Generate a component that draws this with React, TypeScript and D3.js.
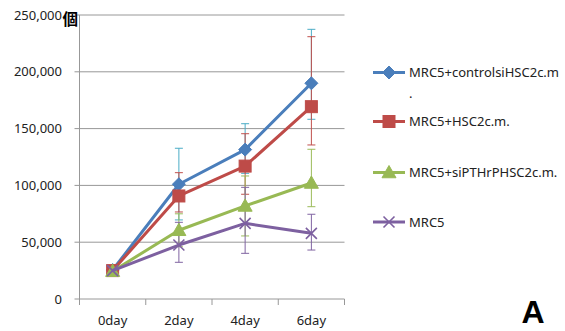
import React from "react";
import * as d3 from "d3";

const categories = ["0day", "2day", "4day", "6day"];
const seriesNames = ["MRC5+controlsiHSC2c.m.", "MRC5+HSC2c.m.", "MRC5+siPTHrPHSC2c.m.", "MRC5"];
const controlValues = [25500, 101000, 131500, 189900];
const controlHigh = [26500, 132700, 154300, 237400];
const controlLow = [24500, 69600, 110600, 158200];
const hscValues = [25000, 90700, 117000, 169300];
const hscHigh = [26000, 111200, 145500, 230900];
const hscLow = [24000, 76600, 92200, 135600];
const siValues = [24500, 60500, 81900, 102100];
const siHigh = [25500, 75000, 108300, 131800];
const siLow = [23500, 46000, 55500, 81250];
const mrcValues = [25000, 47500, 66600, 57800];
const mrcHigh = [26000, 67500, 98300, 74600];
const mrcLow = [24000, 32300, 40200, 43100];
const yTicks = [0, 50000, 100000, 150000, 200000, 250000];

const colors = ["#4a7ebb", "#be4b48", "#98b954", "#7d60a0"];
const errColors = ["#4bacc6", "#c0504d", "#9bbb59", "#8064a2"];
const markers = ["diamond", "square", "triangle", "x"];

const W = 565, H = 331;
const left = 79.5, right = 344.5, top = 15, bottom = 299;

function Marker({ type, x, y, color }: { type: string; x: number; y: number; color: string }) {
  if (type === "diamond") {
    const s = 6.5;
    return <path d={`M${x},${y - s}L${x + s},${y}L${x},${y + s}L${x - s},${y}Z`} fill={color} stroke={color} strokeWidth={1} />;
  }
  if (type === "square") {
    const s = 6;
    return <rect x={x - s} y={y - s} width={2 * s} height={2 * s} fill={color} stroke={color} strokeWidth={1} />;
  }
  if (type === "triangle") {
    const s = 7;
    return <path d={`M${x},${y - s}L${x + s},${y + s * 0.75}L${x - s},${y + s * 0.75}Z`} fill={color} stroke={color} strokeWidth={1} />;
  }
  const s = 5.5;
  return <path d={`M${x - s},${y - s}L${x + s},${y + s}M${x + s},${y - s}L${x - s},${y + s}`} stroke={color} strokeWidth={1.6} fill="none" />;
}

export default function App() {
  const x = d3.scaleBand<string>().domain(categories).range([left, right]);
  const y = d3.scaleLinear().domain([0, 250000]).range([bottom, top]);
  const series = [
    { name: seriesNames[0], values: controlValues, hi: controlHigh, lo: controlLow },
    { name: seriesNames[1], values: hscValues, hi: hscHigh, lo: hscLow },
    { name: seriesNames[2], values: siValues, hi: siHigh, lo: siLow },
    { name: seriesNames[3], values: mrcValues, hi: mrcHigh, lo: mrcLow },
  ];
  const cx = (c: string) => (x(c) as number) + x.bandwidth() / 2;
  const line = d3.line<number>().x((_, i) => cx(categories[i])).y((d) => y(d));
  const fmt = d3.format(",");
  const font = "'Noto Sans', sans-serif";
  const legendY = [72.5, 121.5, 172.5, 222];
  const tickXs = [...categories.map((c) => x(c) as number), right];

  return (
    <svg width={W} height={H} style={{ position: "absolute", left: 0, top: 0, background: "#fff" }}>
      {yTicks.map((t) => (
        <line key={t} x1={left - 5} x2={right} y1={y(t)} y2={y(t)} stroke="#989898" strokeWidth={1} />
      ))}
      <line x1={left} x2={left} y1={top} y2={bottom} stroke="#989898" strokeWidth={1} />
      {tickXs.map((t, i) => (
        <line key={i} x1={t} x2={t} y1={bottom} y2={bottom + 6} stroke="#989898" strokeWidth={1} />
      ))}
      {yTicks.map((t) => (
        <text key={t} x={62} y={y(t) + 4.5} textAnchor="end" fontFamily={font} fontSize={13} fill="#222">
          {fmt(t)}
        </text>
      ))}
      <text x={62.5} y={24.5} fontFamily="'Noto Sans CJK JP', sans-serif" fontSize={15.5} fontWeight="bold" fill="#000">個</text>
      {categories.map((c) => (
        <text key={c} x={cx(c)} y={325} textAnchor="middle" fontFamily={font} fontSize={13} fill="#222">
          {c}
        </text>
      ))}
      {series.map((s, si) => (
        <g key={"e" + si}>
          {s.values.map((v, i) => {
            const px = cx(categories[i]);
            const y1 = y(s.hi[i]);
            const y2 = y(s.lo[i]);
            return (
              <g key={i} stroke={errColors[si]} strokeWidth={1}>
                <line x1={px} x2={px} y1={y1} y2={y2} />
                <line x1={px - 4} x2={px + 4} y1={y1} y2={y1} />
                <line x1={px - 4} x2={px + 4} y1={y2} y2={y2} />
              </g>
            );
          })}
        </g>
      ))}
      {series.map((s, si) => (
        <g key={"s" + si}>
          <path d={line(s.values) as string} fill="none" stroke={colors[si]} strokeWidth={3} strokeLinejoin="round" />
          {s.values.map((v, i) => (
            <Marker key={i} type={markers[si]} x={cx(categories[i])} y={y(v)} color={colors[si]} />
          ))}
        </g>
      ))}
      {series.map((s, si) => (
        <g key={"l" + si}>
          <line x1={373} x2={405} y1={legendY[si]} y2={legendY[si]} stroke={colors[si]} strokeWidth={3} />
          <Marker type={markers[si]} x={389} y={legendY[si]} color={colors[si]} />
          <text x={409} y={legendY[si] + 4.5} fontFamily={font} fontSize={13} fill="#222">
            {si === 0 ? "MRC5+controlsiHSC2c.m" : s.name}
          </text>
          {si === 0 && (
            <text x={409} y={legendY[si] + 25} fontFamily={font} fontSize={13} fill="#222">.</text>
          )}
        </g>
      ))}
      <text x={533} y={323} textAnchor="middle" fontFamily="'Liberation Sans', Arial, sans-serif" fontSize={32} fontWeight="bold" fill="#000">A</text>
    </svg>
  );
}
